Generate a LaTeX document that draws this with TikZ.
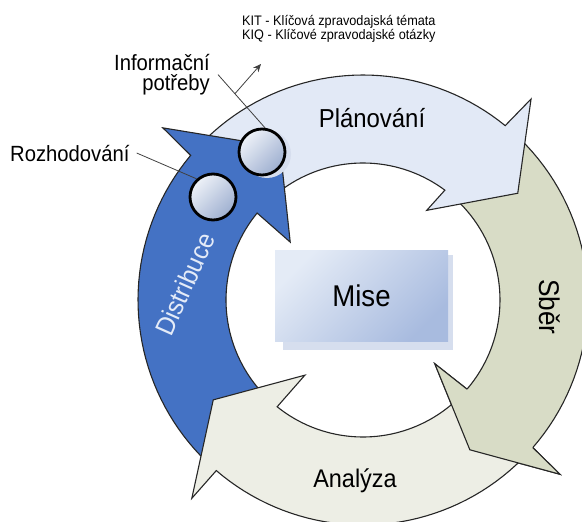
\documentclass[tikz,border=0pt]{standalone}
\usepackage{fontspec}
\setmainfont[FakeStretch=0.92]{Liberation Sans}
\usetikzlibrary{arrows.meta}
\definecolor{distblue}{RGB}{68,114,196}
\definecolor{planfill}{RGB}{226,233,246}
\definecolor{sberfill}{RGB}{216,220,198}
\definecolor{anafill}{RGB}{237,238,229}
\definecolor{miseA}{RGB}{228,235,246}
\definecolor{miseB}{RGB}{168,187,223}
\definecolor{miseshadow}{RGB}{214,222,238}
\definecolor{circA}{RGB}{238,242,248}
\definecolor{circB}{RGB}{158,175,208}
\definecolor{disttext}{RGB}{228,235,248}
\begin{document}
\begin{tikzpicture}[x=1pt,y=-1pt,
  ring/.style={draw=black!85, line width=1.1pt, line join=miter},
  ringline/.style={draw=black!85, line width=1.1pt, line join=miter},
  bubble/.style={circle, draw=black, line width=2.8pt, minimum size=46pt, inner sep=0pt,
     top color=circA, bottom color=circB, shading angle=45},
  leader/.style={draw=black!75, line width=0.8pt},
  lbl/.style={inner sep=0pt, text=black}
]
\useasboundingbox (0,0) rectangle (582,522);
\begin{scope}[shift={(363,300)}]
  % Sber (collection)
  \path[ring, fill=sberfill] plot[domain=312:401, samples=40] (\x:225) -- (401.5:263) -- (414.5:184)
     -- (401.6:96) -- (400.6:137) -- plot[domain=400.6:313, samples=40] (\x:137) -- cycle;
  % Planovani
  \path[ring, fill=planfill] plot[domain=224:309.2, samples=40] (\x:225) -- (309.9:262) -- (325.4:188)
     -- (305.4:110) -- (306.7:137) -- plot[domain=306.7:224, samples=40] (\x:137) -- cycle;
  % Distribuce
  \path[ring, fill=distblue] plot[domain=134:220, samples=40] (\x:225) -- (220.7:264) -- (241.5:174)
     -- (218.5:93) -- (219.4:137) -- plot[domain=219.4:137, samples=40] (\x:137) -- cycle;
  % Analyza
  \path[ring, fill=anafill] plot[domain=45:130.7, samples=40] (\x:225) -- (130.8:262) -- (146.3:180)
     -- (127.7:95) -- (128.8:137) -- plot[domain=128.8:46, samples=40] (\x:137) -- cycle;
  % Sber head on top of the Analyza tail
  \fill[sberfill] (401:225) -- (401.5:263) -- (414.5:184) -- (401.6:96) -- (400.6:137) -- cycle;
  \draw[ringline] (401:225) -- (401.5:263) -- (414.5:184) -- (401.6:96) -- (400.6:137);
\end{scope}

% Mise box
\fill[miseshadow] (283,255) rectangle (453,350);
\node[minimum width=173pt, minimum height=91pt, inner sep=0pt, top color=miseA, bottom color=miseB,
  shading angle=45, font=\fontsize{30}{32}\selectfont] (mise) at (361.5,295.5) {Mise};

% ring labels
\node[lbl, anchor=base, font=\fontsize{26}{28}\selectfont] (plan) at (372,127) {Plánování};
\node[lbl, anchor=base, rotate=-90, font=\fontsize{28.5}{30}\selectfont] (sber) at (539,307) {Sběr};
\node[lbl, anchor=base, font=\fontsize{25.5}{28}\selectfont] (ana) at (355,487) {Analýza};
\node[lbl, anchor=center, rotate=66, text=disttext, font=\fontsize{26.5}{28}\selectfont] (dist) at (185,284) {Distribuce};

% bubbles
\fill[miseshadow] (267,154) circle (24);
\node[bubble] (inf) at (262,152) {};
\node[bubble] (roz) at (213,197) {};

% outer labels
\node[lbl, align=right, anchor=north east, font=\fontsize{22}{20}\selectfont] (infolbl) at (210,54) {Informační\\potřeby};
\node[lbl, anchor=base west, font=\fontsize{22}{24}\selectfont] (rozlbl) at (10,161) {Rozhodování};
\node[lbl, align=left, anchor=north west, font=\fontsize{13.8}{14}\selectfont] (kit) at (242,15.5)
  {KIT - Klíčová zpravodajská témata\\KIQ - Klíčové zpravodajské otázky};

% leaders
\coordinate (kitarrow) at (261,64);
\draw[leader] ([xshift=8pt]infolbl.east) -- coordinate[pos=0.36] (branch) (inf.83);
\draw[leader, -{Stealth[length=8pt,width=7pt]}] (branch) -- (kitarrow);
\draw[leader] ([xshift=7pt]rozlbl.east) -- (roz.132);
\end{tikzpicture}
\end{document}
